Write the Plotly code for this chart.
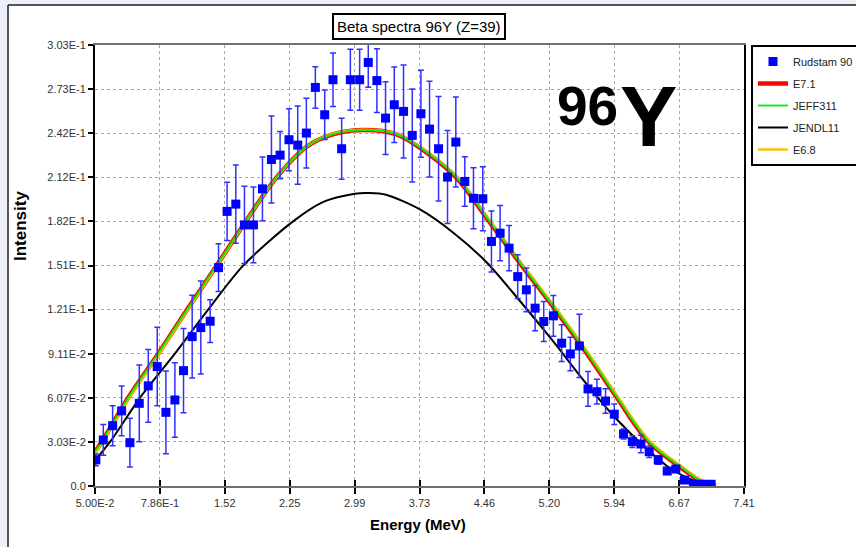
import plotly.graph_objects as go

# ---------------- data ----------------
energy = [0.06, 0.144, 0.250, 0.352, 0.446, 0.552, 0.654, 0.756, 0.854, 0.956,
          1.054, 1.152, 1.250, 1.356, 1.451, 1.548, 1.647, 1.745, 1.847, 1.949,
          2.051, 2.149, 2.250, 2.349, 2.447, 2.549, 2.655, 2.749, 2.847, 2.946,
          3.051, 3.149, 3.247, 3.345, 3.444, 3.549, 3.648, 3.746, 3.844, 3.946,
          4.048, 4.142, 4.244, 4.342, 4.448, 4.546, 4.644, 4.746, 4.844, 4.942,
          5.041, 5.139, 5.248, 5.342, 5.441, 5.543, 5.641, 5.742, 5.840, 5.939,
          6.044, 6.143, 6.241, 6.335, 6.437, 6.539, 6.637, 6.735, 6.837, 6.939,
          7.037]
rudstam = [0.018, 0.0317, 0.0415, 0.0517, 0.0298, 0.0569, 0.0689, 0.0822, 0.0507, 0.0592,
           0.0794, 0.1028, 0.1090, 0.1134, 0.1503, 0.1890, 0.1940, 0.1797, 0.1797, 0.2045,
           0.2247, 0.2277, 0.2383, 0.2346, 0.2429, 0.2743, 0.2555, 0.2796, 0.2321, 0.2796,
           0.2796, 0.2915, 0.2790, 0.2532, 0.2624, 0.2578, 0.2413, 0.2562, 0.2456, 0.2321,
           0.2126, 0.2367, 0.2096, 0.1980, 0.1977, 0.1683, 0.1740, 0.1637, 0.1441, 0.1350,
           0.1224, 0.1132, 0.1171, 0.0983, 0.0909, 0.0964, 0.0668, 0.0649, 0.0585, 0.0494,
           0.0358, 0.0305, 0.0289, 0.0236, 0.0179, 0.0103, 0.0117, 0.0041, 0.0012, 0.0012,
           0.0012]
rudstam_err = [0.004, 0.0106, 0.0138, 0.0172, 0.0168, 0.0264, 0.025, 0.027, 0.0285, 0.0257,
               0.029, 0.0285, 0.032, 0.0147, 0.0165, 0.020, 0.027, 0.0266, 0.026, 0.022,
               0.030, 0.0163, 0.0213, 0.027, 0.024, 0.0143, 0.017, 0.0184, 0.021, 0.021,
               0.021, 0.017, 0.022, 0.025, 0.026, 0.032, 0.032, 0.030, 0.033, 0.036,
               0.032, 0.031, 0.017, 0.021, 0.022, 0.021, 0.019, 0.0155, 0.015, 0.015,
               0.0155, 0.0138, 0.014, 0.0126, 0.0115, 0.0218, 0.012, 0.0085, 0.0085, 0.007,
               0.0034, 0.004, 0.006, 0.004, 0.003, 0.002, 0.002, 0.001, 0.0, 0.0,
               0.0]

calc_energy = [0.05, 0.125, 0.427, 0.767, 1.095, 1.43, 1.76, 2.11, 2.45, 2.745,
               3.10, 3.47, 3.80, 4.146, 4.52, 4.89, 5.27, 5.63, 5.97, 6.33,
               6.70, 6.90, 7.09]
e71 = [0.0235, 0.0303, 0.0607, 0.0911, 0.1214, 0.1517, 0.1821, 0.2124, 0.2335, 0.2420,
       0.2450, 0.2420, 0.2300, 0.2124, 0.1821, 0.1517, 0.1214, 0.0911, 0.0607, 0.0303,
       0.0125, 0.0040, 0.0]
jeff311 = [0.0238, 0.0305, 0.0609, 0.0913, 0.1216, 0.1519, 0.1822, 0.2125, 0.2336, 0.2421,
           0.2451, 0.2421, 0.2302, 0.2127, 0.1825, 0.1521, 0.1218, 0.0915, 0.0611, 0.0306,
           0.0128, 0.0042, 0.0]
e68 = [0.0220, 0.0290, 0.0596, 0.0902, 0.1207, 0.1512, 0.1818, 0.2123, 0.2336, 0.2424,
       0.2452, 0.2424, 0.2307, 0.2133, 0.1832, 0.1530, 0.1228, 0.0926, 0.0622, 0.0318,
       0.0135, 0.0048, 0.0]
jendl_energy = [0.05, 0.22, 0.56, 0.956, 1.333, 1.73, 2.296, 2.64, 3.00, 3.16,
                3.35, 3.73, 4.11, 4.49, 4.86, 5.24, 5.60, 5.95, 6.30, 6.60, 6.98]
jendl11 = [0.0175, 0.0303, 0.0607, 0.0911, 0.1214, 0.1517, 0.1821, 0.1955, 0.2012, 0.2016,
           0.2004, 0.1905, 0.1745, 0.1540, 0.1280, 0.1000, 0.0720, 0.0470, 0.0260, 0.0110, 0.0]

x_tickvals = [0.05, 0.786, 1.522, 2.258, 2.994, 3.73, 4.466, 5.202, 5.938, 6.674, 7.41]
x_ticktext = ["5.00E-2", "7.86E-1", "1.52", "2.25", "2.99", "3.73", "4.46", "5.20", "5.94", "6.67", "7.41"]
y_tickvals = [0.0, 0.03035, 0.0607, 0.09105, 0.1214, 0.15175, 0.1821, 0.21245, 0.2428, 0.27315, 0.3035]
y_ticktext = ["0.0", "3.03E-2", "6.07E-2", "9.11E-2", "1.21E-1", "1.51E-1", "1.82E-1", "2.12E-1",
              "2.42E-1", "2.73E-1", "3.03E-1"]

# ---------------- layout geometry (pixels) ----------------
W, H = 856, 547
L, R, T, B = 95, 744, 45, 486
PW, PH = R - L, B - T


def px(xp):
    return (xp - L) / PW


def py(yp):
    return (B - yp) / PH


FONT = "Arial, Liberation Sans, sans-serif"

fig = go.Figure()

fig.add_trace(go.Scatter(x=calc_energy, y=e71, mode="lines", name="E7.1",
                         line=dict(color="#FF0000", width=4.5, shape="spline"),
                         legendgroup="b", legendrank=2))
fig.add_trace(go.Scatter(x=calc_energy, y=e68, mode="lines", name="E6.8",
                         line=dict(color="#FFC000", width=2.5, shape="spline"),
                         legendgroup="e", legendrank=5))
fig.add_trace(go.Scatter(x=calc_energy, y=jeff311, mode="lines", name="JEFF311",
                         line=dict(color="#00EE00", width=1.8, shape="spline"),
                         legendgroup="c", legendrank=3))
fig.add_trace(go.Scatter(x=jendl_energy, y=jendl11, mode="lines", name="JENDL11",
                         line=dict(color="#000000", width=2, shape="spline", smoothing=0.8),
                         legendgroup="d", legendrank=4))
fig.add_trace(go.Scatter(x=energy, y=rudstam, mode="markers", name="Rudstam 90",
                         marker=dict(symbol="square", size=9, color="#0000FF", line=dict(width=0)),
                         error_y=dict(type="data", array=rudstam_err, color="#3030FF",
                                      thickness=1.5, width=3),
                         legendgroup="a", legendrank=1))

# overlay axis for the inner half of the crossing x ticks
fig.add_trace(go.Scatter(x=[0.05], y=[0], mode="markers", marker=dict(opacity=0),
                         xaxis="x2", showlegend=False, hoverinfo="skip"))

fig.update_layout(
    width=W, height=H,
    margin=dict(l=L, r=W - R, t=T, b=H - B, autoexpand=False),
    paper_bgcolor="#ECEEFC",
    plot_bgcolor="#FFFFFF",
    font=dict(family=FONT, size=11, color="#333333"),
    showlegend=True,
    xaxis=dict(range=[0.05, 7.41], tickvals=x_tickvals, ticktext=x_ticktext,
               ticks="outside", ticklen=6, tickwidth=2, tickcolor="#000000",
               showline=True, linecolor="#707070", linewidth=2, mirror=True,
               showgrid=True, gridcolor="#A8A8A8", griddash="dot", gridwidth=1,
               zeroline=False, tickfont=dict(size=11, color="#333333")),
    xaxis2=dict(range=[0.05, 7.41], tickvals=x_tickvals, overlaying="x", anchor="y",
                side="bottom", ticks="inside", ticklen=6, tickwidth=2, tickcolor="#000000",
                showticklabels=False, showgrid=False, showline=False, zeroline=False),
    yaxis=dict(range=[0, 0.3035], tickvals=y_tickvals, ticktext=y_ticktext,
               ticks="outside", ticklen=5, tickwidth=2, tickcolor="#000000",
               showline=True, linecolor="#000000", linewidth=2, mirror=True,
               showgrid=True, gridcolor="#A8A8A8", griddash="dot", gridwidth=1,
               zeroline=False, tickfont=dict(size=11, color="#333333")),
    legend=dict(x=px(751), y=1.0, xanchor="left", yanchor="top",
                bgcolor="#FFFFFF", bordercolor="#000000", borderwidth=2,
                font=dict(family=FONT, size=11, color="#222222"),
                traceorder="grouped", tracegroupgap=3, itemsizing="trace"),
    shapes=[
        dict(type="rect", xref="paper", yref="paper", x0=px(8), x1=px(W + 5), y0=py(H + 5), y1=py(5),
             fillcolor="#FFFFFF", line=dict(width=0), layer="below"),
        dict(type="line", xref="paper", yref="paper", x0=px(8), x1=px(8), y0=py(H + 5), y1=py(5),
             line=dict(color="#202020", width=1.5)),
        dict(type="line", xref="paper", yref="paper", x0=px(8), x1=px(W + 5), y0=py(5), y1=py(5),
             line=dict(color="#202020", width=1.5)),
    ],
    annotations=[
        dict(text="Beta spectra 96Y (Z=39)", xref="paper", yref="paper", x=px(418.5), y=py(27),
             xanchor="center", yanchor="middle", showarrow=False,
             font=dict(family=FONT, size=15, color="#000000"),
             bordercolor="#000000", borderwidth=2, borderpad=3, bgcolor="#FFFFFF"),
        dict(text="<b>Intensity</b>", xref="paper", yref="paper", x=px(20), y=py(226),
             xanchor="center", yanchor="middle", textangle=-90, showarrow=False,
             font=dict(family=FONT, size=17, color="#000000")),
        dict(text="<b>Energy (MeV)</b>", xref="paper", yref="paper", x=px(418), y=py(524),
             xanchor="center", yanchor="middle", showarrow=False,
             font=dict(family=FONT, size=15, color="#000000")),
        dict(text="<b>96</b>", xref="paper", yref="paper", x=px(555), y=py(73),
             xanchor="left", yanchor="top", showarrow=False,
             font=dict(family=FONT, size=55, color="#000000")),
        dict(text="<b>Y</b>", xref="paper", yref="paper", x=px(618), y=py(66),
             xanchor="left", yanchor="top", showarrow=False,
             font=dict(family=FONT, size=86, color="#000000")),
    ],
)

fig.write_html("out.html")
